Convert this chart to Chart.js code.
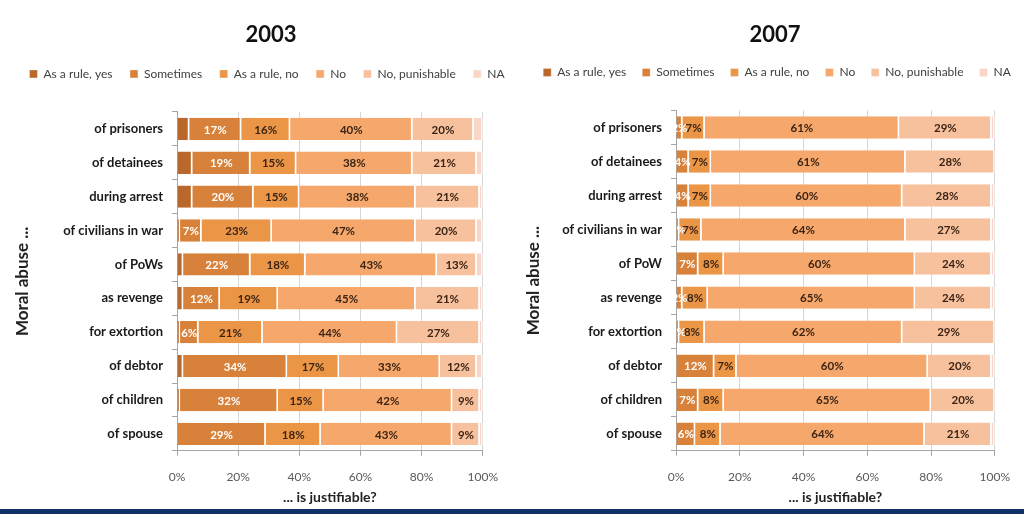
<!DOCTYPE html>
<html>
<head>
<meta charset="utf-8">
<script src="https://cdn.jsdelivr.net/npm/chart.js@4.4.1/dist/chart.umd.min.js"></script>
<style>
  html, body { margin: 0; padding: 0; background: #fff; }
  body { width: 1024px; height: 515px; position: relative; overflow: hidden; }
  canvas { position: absolute; top: 0; }
  #chart2003 { left: 0; }
  #chart2007 { left: 512px; }
  .rule { position: absolute; left: 0; top: 509px; width: 1024px; height: 5px; background: #10306a; }
</style>
</head>
<body>
<canvas id="chart2003" width="512" height="506"></canvas>
<canvas id="chart2007" width="512" height="506"></canvas>
<div class="rule"></div>
<script>
const FONT = 'Lato, "Open Sans", sans-serif';

const answers = ['As a rule, yes', 'Sometimes', 'As a rule, no', 'No', 'No, punishable', 'NA'];
const answerColors = ['#b9672b', '#d8813a', '#eb9546', '#f6a76b', '#f8c19e', '#fad6c9'];
const xTicks = [0, 20, 40, 60, 80, 100];

// 2003 survey
const cats2003 = ['of prisoners', 'of detainees', 'during arrest', 'of civilians in war', 'of PoWs',
  'as revenge', 'for extortion', 'of debtor', 'of children', 'of spouse'];
const yes2003        = [4, 5, 5, 1, 2, 2, 1, 2, 1, 0];
const sometimes2003  = [17, 19, 20, 7, 22, 12, 6, 34, 32, 29];
const ruleNo2003     = [16, 15, 15, 23, 18, 19, 21, 17, 15, 18];
const no2003         = [40, 38, 38, 47, 43, 45, 44, 33, 42, 43];
const punishable2003 = [20, 21, 21, 20, 13, 21, 27, 12, 9, 9];
const na2003         = [3, 2, 1, 2, 2, 1, 1, 2, 1, 1];

// 2007 survey
const cats2007 = ['of prisoners', 'of detainees', 'during arrest', 'of civilians in war', 'of PoW',
  'as revenge', 'for extortion', 'of debtor', 'of children', 'of spouse'];
const yes2007        = [0, 0, 0, 0, 0, 0, 0, 0, 0, 0];
const sometimes2007  = [2, 4, 4, 1, 7, 2, 1, 12, 7, 6];
const ruleNo2007     = [7, 7, 7, 7, 8, 8, 8, 7, 8, 8];
const no2007         = [61, 61, 60, 64, 60, 65, 62, 60, 65, 64];
const punishable2007 = [29, 28, 28, 27, 24, 24, 29, 20, 20, 21];
const na2007         = [1, 0, 1, 1, 1, 1, 0, 1, 0, 1];

// which answers get a percentage written on the bar, and in what colour
const labelColors = [null, '#ffffff', '#3b2414', '#3b2414', '#3b2414', null];

const segmentLabels = {
  id: 'segmentLabels',
  afterDatasetsDraw(chart) {
    const ctx = chart.ctx;
    ctx.save();
    ctx.font = 'bold 11.5px ' + FONT;
    ctx.textAlign = 'center';
    ctx.textBaseline = 'middle';
    chart.data.datasets.forEach((ds, i) => {
      if (!labelColors[i]) return;
      chart.getDatasetMeta(i).data.forEach((bar, j) => {
        const v = ds.data[j];
        if (!v) return;
        const p = bar.getCenterPoint();
        ctx.fillStyle = labelColors[i];
        ctx.fillText(v + '%', p.x, p.y + 1);
      });
    });
    ctx.restore();
  }
};

// one-row legend, centred on `center`, with room left below it
function legendRow(center) {
  return {
    id: 'legendRow',
    beforeInit(chart) {
      const fit = chart.legend.fit;
      chart.legend.fit = function () {
        this.maxWidth = chart.width + 80;
        fit.call(this);
        this.height += 22;
      };
    },
    afterLayout(chart) {
      const lg = chart.legend;
      lg.left = center - 280;
      lg.right = center + 280;
      lg.width = 560;
    }
  };
}

function makeChart(id, title, cats, series, opt) {
  const datasets = series.map((data, i) => ({
    label: answers[i],
    data: data,
    backgroundColor: answerColors[i],
    borderColor: '#ffffff',
    borderWidth: { left: 0, right: 1.5, top: 0, bottom: 0 },
    borderSkipped: false,
    barPercentage: 0.66,
    categoryPercentage: 1
  }));

  return new Chart(document.getElementById(id), {
    type: 'bar',
    data: { labels: cats, datasets: datasets },
    plugins: [segmentLabels, legendRow(opt.legendCenter)],
    options: {
      indexAxis: 'y',
      responsive: false,
      animation: false,
      layout: { padding: opt.pad },
      plugins: {
        tooltip: { enabled: false },
        title: {
          display: true,
          text: title,
          color: '#111',
          font: { family: FONT, size: 22, weight: 'bold' },
          padding: { top: 22, bottom: 2 }
        },
        legend: {
          position: 'top',
          labels: {
            boxWidth: 8,
            boxHeight: 8,
            padding: opt.legendPad,
            color: '#404040',
            font: { family: FONT, size: 12 }
          }
        }
      },
      scales: {
        x: {
          stacked: true,
          min: 0,
          max: 100,
          afterBuildTicks: s => { s.ticks = xTicks.map(v => ({ value: v })); },
          ticks: {
            callback: v => v + '%',
            color: '#595959',
            font: { family: FONT, size: 12 },
            padding: 14,
            maxRotation: 0
          },
          grid: { color: '#d6d6d6', tickLength: 5, tickColor: '#a6a6a6' },
          border: { color: '#a6a6a6' },
          title: {
            display: true,
            text: '... is justifiable?',
            color: '#222',
            font: { family: FONT, size: 14, weight: 'bold' },
            padding: { top: -9, bottom: 0 }
          }
        },
        y: {
          stacked: true,
          grid: { drawOnChartArea: false, drawTicks: true, tickLength: 5, color: '#a6a6a6', offset: true },
          border: { color: '#a6a6a6' },
          ticks: {
            color: '#1a1a1a',
            font: { family: FONT, size: 13, weight: 'bold' },
            padding: 9
          },
          title: {
            display: true,
            text: 'Moral abuse ...',
            color: '#222',
            font: { family: FONT, size: 17, weight: 'bold' },
            padding: { top: opt.yTitlePad, bottom: 0 }
          },
          afterFit(scale) { scale.width = opt.yWidth; }
        }
      }
    }
  });
}

makeChart('chart2003', '2003', cats2003,
  [yes2003, sometimes2003, ruleNo2003, no2003, punishable2003, na2003],
  { pad: { left: 38, right: 8, top: 0, bottom: 0 }, yWidth: 139, yTitlePad: -26,
    legendCenter: 267, legendPad: 17.5 });

makeChart('chart2007', '2007', cats2007,
  [yes2007, sometimes2007, ruleNo2007, no2007, punishable2007, na2007],
  { pad: { left: 22, right: 8, top: 0, bottom: 0 }, yWidth: 142, yTitlePad: -11,
    legendCenter: 265, legendPad: 16 });
</script>
</body>
</html>
